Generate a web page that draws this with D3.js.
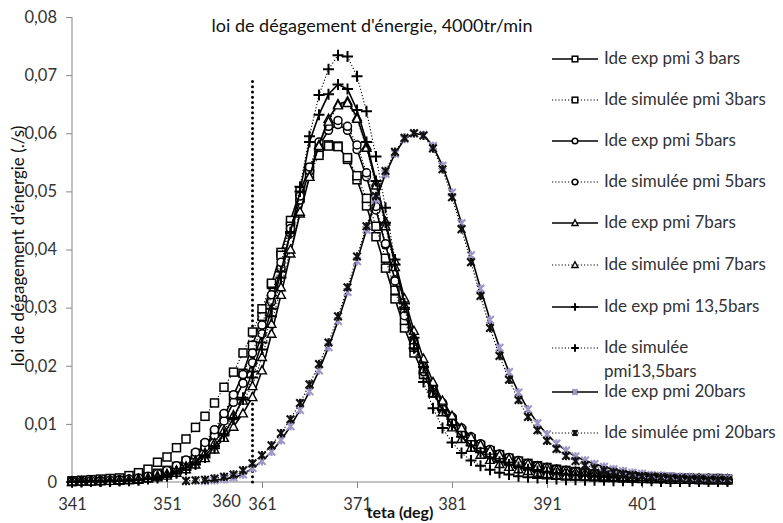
<!DOCTYPE html>
<html><head><meta charset="utf-8">
<script src="https://cdn.jsdelivr.net/npm/d3@7"></script>
<style>body{margin:0;background:#fff;} svg{display:block;font-family:Lato,"Open Sans",sans-serif;}</style>
</head><body><svg id="c" width="783" height="523"></svg>
<script>
const theta = [341,342,343,344,345,346,347,348,349,350,351,352,353,354,355,356,357,358,359,360,
361,362,363,364,365,366,367,368,369,370,371,372,373,374,375,376,377,378,379,380,
381,382,383,384,385,386,387,388,389,390,391,392,393,394,395,396,397,398,399,400,
401,402,403,404,405,406,407,408,409,410];
const xTickLabels = [341,351,361,371,381,391,401];
const yTickLabels = ["0","0,01","0,02","0,03","0,04","0,05","0,06","0,07","0,08"];
const yTicks = [0,0.01,0.02,0.03,0.04,0.05,0.06,0.07,0.08];

const exp3 = [0.0001,0.0002,0.0002,0.0003,0.0004,0.0005,0.0006,0.0008,0.0011,0.0015,
0.0020,0.0027,0.0036,0.0048,0.0064,0.0084,0.0112,0.0148,0.0187,0.0235,
0.0285,0.0340,0.0395,0.0450,0.0500,0.0540,0.0568,0.0580,0.0578,0.0555,
0.0520,0.0475,0.0422,0.0368,0.0315,0.0265,0.0222,0.0185,0.0153,0.0127,
0.0105,0.0088,0.0074,0.0063,0.0054,0.0047,0.0041,0.0036,0.0032,0.0028,
0.0025,0.0022,0.0020,0.0018,0.0016,0.0014,0.0013,0.0012,0.0011,0.0010,
0.0009,0.0009,0.0008,0.0008,0.0007,0.0007,0.0006,0.0006,0.0006,0.0005];
const sim3 = [0.0002,0.0003,0.0004,0.0005,0.0006,0.0007,0.0011,0.0016,0.0022,0.0034,
0.0043,0.0059,0.0074,0.0094,0.0113,0.0136,0.0163,0.0189,0.0222,0.0258,
0.0298,0.0342,0.0390,0.0440,0.0488,0.0530,0.0562,0.0578,0.0577,0.0558,
0.0527,0.0488,0.0440,0.0385,0.0330,0.0278,0.0232,0.0192,0.0158,0.0130,
0.0107,0.0088,0.0073,0.0061,0.0051,0.0043,0.0036,0.0031,0.0027,0.0023,
0.0020,0.0018,0.0016,0.0014,0.0012,0.0011,0.0010,0.0009,0.0008,0.0007,
0.0007,0.0006,0.0006,0.0005,0.0005,0.0005,0.0004,0.0004,0.0004,0.0004];
const exp5 = [0.0001,0.0001,0.0001,0.0002,0.0002,0.0003,0.0004,0.0006,0.0008,0.0012,
0.0017,0.0024,0.0033,0.0045,0.0060,0.0080,0.0105,0.0137,0.0170,0.0205,
0.0255,0.0310,0.0368,0.0428,0.0485,0.0535,0.0578,0.0605,0.0615,0.0605,
0.0572,0.0525,0.0468,0.0408,0.0348,0.0292,0.0242,0.0200,0.0165,0.0136,
0.0112,0.0093,0.0078,0.0066,0.0056,0.0048,0.0042,0.0037,0.0032,0.0028,
0.0025,0.0022,0.0020,0.0018,0.0016,0.0014,0.0013,0.0012,0.0011,0.0010,
0.0009,0.0008,0.0008,0.0007,0.0007,0.0006,0.0006,0.0006,0.0005,0.0005];
const sim5 = [0.0001,0.0001,0.0002,0.0002,0.0003,0.0004,0.0005,0.0007,0.0010,0.0014,
0.0020,0.0028,0.0038,0.0051,0.0068,0.0090,0.0118,0.0150,0.0185,0.0222,
0.0270,0.0322,0.0378,0.0436,0.0492,0.0542,0.0585,0.0612,0.0622,0.0612,
0.0580,0.0532,0.0474,0.0410,0.0346,0.0286,0.0234,0.0190,0.0154,0.0125,
0.0101,0.0082,0.0067,0.0055,0.0046,0.0039,0.0033,0.0028,0.0024,0.0021,
0.0018,0.0016,0.0014,0.0012,0.0011,0.0010,0.0009,0.0008,0.0007,0.0007,
0.0006,0.0006,0.0005,0.0005,0.0005,0.0004,0.0004,0.0004,0.0004,0.0003];
const exp7 = [0.0000,0.0001,0.0001,0.0001,0.0002,0.0002,0.0003,0.0004,0.0006,0.0008,
0.0011,0.0016,0.0022,0.0030,0.0041,0.0056,0.0076,0.0095,0.0118,0.0146,
0.0192,0.0255,0.0322,0.0393,0.0462,0.0525,0.0580,0.0625,0.0650,0.0655,
0.0628,0.0578,0.0515,0.0448,0.0380,0.0316,0.0260,0.0212,0.0172,0.0140,
0.0114,0.0093,0.0077,0.0064,0.0054,0.0046,0.0040,0.0035,0.0031,0.0027,
0.0024,0.0021,0.0019,0.0017,0.0015,0.0014,0.0012,0.0011,0.0010,0.0009,
0.0009,0.0008,0.0007,0.0007,0.0006,0.0006,0.0006,0.0005,0.0005,0.0005];
const sim7 = [0.0001,0.0001,0.0001,0.0002,0.0002,0.0003,0.0004,0.0005,0.0007,0.0010,
0.0014,0.0020,0.0027,0.0037,0.0050,0.0067,0.0089,0.0115,0.0140,0.0165,
0.0215,0.0272,0.0335,0.0400,0.0465,0.0525,0.0578,0.0620,0.0648,0.0652,
0.0625,0.0575,0.0510,0.0440,0.0370,0.0303,0.0244,0.0194,0.0153,0.0120,
0.0094,0.0074,0.0059,0.0047,0.0038,0.0031,0.0026,0.0022,0.0019,0.0016,
0.0014,0.0012,0.0011,0.0010,0.0009,0.0008,0.0007,0.0007,0.0006,0.0006,
0.0005,0.0005,0.0005,0.0004,0.0004,0.0004,0.0004,0.0003,0.0003,0.0003];
const exp135 = [0.0000,0.0001,0.0001,0.0001,0.0002,0.0002,0.0003,0.0004,0.0006,0.0009,
0.0013,0.0018,0.0025,0.0034,0.0046,0.0062,0.0083,0.0110,0.0145,0.0190,
0.0240,0.0298,0.0362,0.0430,0.0500,0.0585,0.0632,0.0667,0.0684,0.0676,
0.0640,0.0585,0.0518,0.0446,0.0374,0.0307,0.0248,0.0198,0.0157,0.0124,
0.0098,0.0078,0.0063,0.0051,0.0042,0.0035,0.0030,0.0026,0.0022,0.0019,
0.0017,0.0015,0.0013,0.0012,0.0011,0.0010,0.0009,0.0008,0.0008,0.0007,
0.0007,0.0006,0.0006,0.0006,0.0005,0.0005,0.0005,0.0005,0.0004,0.0004];
const sim135 = [0.0000,0.0000,0.0001,0.0001,0.0001,0.0002,0.0002,0.0003,0.0005,0.0007,
0.0010,0.0015,0.0021,0.0030,0.0042,0.0058,0.0080,0.0108,0.0142,0.0180,
0.0228,0.0285,0.0352,0.0428,0.0508,0.0595,0.0666,0.0710,0.0734,0.0732,
0.0698,0.0638,0.0560,0.0472,0.0383,0.0300,0.0230,0.0172,0.0127,0.0093,
0.0068,0.0050,0.0037,0.0028,0.0021,0.0016,0.0013,0.0010,0.0008,0.0007,
0.0006,0.0005,0.0004,0.0004,0.0003,0.0003,0.0003,0.0002,0.0002,0.0002,
0.0002,0.0002,0.0001,0.0001,0.0001,0.0001,0.0001,0.0001,0.0001,0.0001];
const exp20 = [null,null,null,null,null,null,null,null,null,null,
null,null,null,null,0.0002,0.0003,0.0005,0.0008,0.0013,0.0024,
0.0036,0.0052,0.0072,0.0096,0.0124,0.0156,0.0192,0.0232,0.0277,0.0327,
0.0380,0.0434,0.0486,0.0530,0.0565,0.0590,0.0600,0.0597,0.0578,0.0544,
0.0498,0.0445,0.0390,0.0333,0.0279,0.0231,0.0189,0.0154,0.0125,0.0101,
0.0082,0.0066,0.0054,0.0044,0.0037,0.0031,0.0026,0.0022,0.0019,0.0016,
0.0014,0.0012,0.0011,0.0010,0.0009,0.0008,0.0007,0.0007,0.0006,0.0006];
const sim20 = [null,null,null,null,null,null,null,null,null,null,
null,null,0.0002,0.0003,0.0004,0.0006,0.0009,0.0013,0.0020,0.0032,
0.0046,0.0063,0.0084,0.0108,0.0136,0.0168,0.0203,0.0240,0.0285,0.0335,
0.0388,0.0440,0.0492,0.0535,0.0568,0.0592,0.0600,0.0596,0.0574,0.0538,
0.0490,0.0435,0.0378,0.0320,0.0265,0.0217,0.0176,0.0141,0.0112,0.0089,
0.0071,0.0057,0.0045,0.0036,0.0029,0.0024,0.0020,0.0017,0.0014,0.0012,
0.0010,0.0009,0.0008,0.0007,0.0006,0.0005,0.0005,0.0004,0.0004,0.0003];

const seriesNames = ["Ide exp pmi 3 bars","Ide simulée pmi 3bars","Ide exp pmi 5bars","Ide simulée pmi 5bars",
"Ide exp pmi 7bars","Ide simulée pmi 7bars","Ide exp pmi 13,5bars","Ide simulée pmi13,5bars",
"Ide exp pmi 20bars","Ide simulée pmi 20bars"];
const seriesValues = [exp3, sim3, exp5, sim5, exp7, sim7, exp135, sim135, exp20, sim20];
const seriesMarkers = ["square","square","circle","circle","triangle","triangle","plus","plus","star","star"];
const seriesDotted = [false,true,false,true,false,true,false,true,false,true];
const markerColors = ["#000","#000","#000","#000","#000","#000","#000","#000","#9d98c6","#111"];
const title = "loi de dégagement d'énergie, 4000tr/min";
const yTitle = "loi de dégagement d'énergie (./s)";
const xTitle = "teta (deg)";
const refLineTheta = 360, refLineTop = 0.0695;

const svg = d3.select("#c");
const x = d3.scaleLinear().domain([341, 410]).range([72, 727.5]);
const y = d3.scaleLinear().domain([0, 0.08]).range([482, 17]);

// axes
const yAxis = svg.append("g").attr("transform","translate(72,0)")
  .call(d3.axisLeft(y).tickValues(yTicks).tickFormat((d,i)=>yTickLabels[i]).tickSize(6).tickPadding(9));
yAxis.select(".domain").attr("stroke","#878787").attr("d","M0,17V482");
yAxis.selectAll(".tick line").attr("stroke","#878787");
yAxis.selectAll(".tick text").attr("font-size",16.5).attr("fill","#333").attr("font-family","Lato");

const xAxis = svg.append("g").attr("transform","translate(0,482)")
  .call(d3.axisBottom(x).tickValues(xTickLabels).tickFormat(d3.format("d")).tickSize(6).tickPadding(10));
xAxis.select(".domain").attr("stroke","#878787").attr("d","M72,0H727.5");
xAxis.selectAll(".tick line").attr("stroke","#878787");
xAxis.selectAll(".tick text").attr("font-size",16.5).attr("fill","#333").attr("font-family","Lato");

// reference line at 360
svg.append("line").attr("x1",x(refLineTheta)).attr("x2",x(refLineTheta))
  .attr("y1",y(0)).attr("y2",y(refLineTop))
  .attr("stroke","#000").attr("stroke-width",3).attr("stroke-dasharray","0,5.2").attr("stroke-linecap","round");
svg.append("text").attr("x",x(refLineTheta)-26).attr("y",507).attr("font-size",16.5).attr("fill","#333")
  .attr("text-anchor","middle").text("360");

function drawMarker(g, type, cx, cy, color, s) {
  s = s || 1;
  if (type==="square") g.append("rect").attr("x",cx-4*s).attr("y",cy-4*s).attr("width",8*s).attr("height",8*s)
     .attr("fill","#fff").attr("stroke",color).attr("stroke-width",1.5);
  else if (type==="circle") g.append("circle").attr("cx",cx).attr("cy",cy).attr("r",4*s)
     .attr("fill","#fff").attr("stroke",color).attr("stroke-width",1.5);
  else if (type==="triangle") g.append("path")
     .attr("d",`M${cx},${cy-4.6*s}L${cx+4.4*s},${cy+3.5*s}L${cx-4.4*s},${cy+3.5*s}Z`)
     .attr("fill","#fff").attr("stroke",color).attr("stroke-width",1.4);
  else if (type==="plus") g.append("path")
     .attr("d",`M${cx-5.5*s},${cy}H${cx+5.5*s}M${cx},${cy-5.5*s}V${cy+5.5*s}`)
     .attr("stroke",color).attr("stroke-width",2).attr("fill","none");
  else if (type==="star") g.append("path")
     .attr("d",`M${cx-3.8*s},${cy-3.8*s}L${cx+3.8*s},${cy+3.8*s}M${cx+3.8*s},${cy-3.8*s}L${cx-3.8*s},${cy+3.8*s}M${cx},${cy-4.3*s}V${cy+4.3*s}`)
     .attr("stroke",color).attr("stroke-width",2.1).attr("fill","none");
}

const line = d3.line().defined(d => d[1] != null).x(d => x(d[0])).y(d => y(d[1]));
const plot = svg.append("g");
seriesValues.forEach((vals, si) => {
  const pts = theta.map((t,i) => [t, vals[i]]);
  const g = plot.append("g");
  g.append("path").attr("d", line(pts)).attr("fill","none").attr("stroke","#000")
    .attr("stroke-width", seriesDotted[si] ? 1.1 : 1.6)
    .attr("stroke-dasharray", seriesDotted[si] ? "1.2,2" : null);
  pts.filter(p => p[1] != null).forEach(p => drawMarker(g, seriesMarkers[si], x(p[0]), y(p[1]), markerColors[si]));
});

// titles
svg.append("text").attr("x",372).attr("y",32).attr("text-anchor","middle").attr("font-size",18)
  .attr("fill","#111").text(title);
svg.append("text").attr("transform","translate(24,246) rotate(-90)").attr("text-anchor","middle")
  .attr("font-size",17).attr("fill","#111").text(yTitle);
svg.append("text").attr("x",400).attr("y",518).attr("text-anchor","middle").attr("font-size",16)
  .attr("font-weight","bold").attr("fill","#111").text(xTitle);

// legend
const legY = [59,100,141,182,223,265,307,348,392,433];
const leg = svg.append("g");
seriesNames.forEach((name, i) => {
  const yy = legY[i];
  leg.append("line").attr("x1",552).attr("x2",598).attr("y1",yy).attr("y2",yy).attr("stroke","#000")
    .attr("stroke-width", seriesDotted[i] ? 1.1 : 1.6).attr("stroke-dasharray", seriesDotted[i] ? "1.2,2" : null);
  drawMarker(leg, seriesMarkers[i], 575, yy, markerColors[i], 0.7);
  if (i === 7) {
    leg.append("text").attr("x",604).attr("y",yy+5).attr("font-size",17).attr("fill","#333").text("Ide simulée");
    leg.append("text").attr("x",604).attr("y",yy+29).attr("font-size",17).attr("fill","#333").text("pmi13,5bars");
  } else {
    leg.append("text").attr("x",604).attr("y",yy+5).attr("font-size",17).attr("fill","#333").text(name);
  }
});
</script></body></html>
